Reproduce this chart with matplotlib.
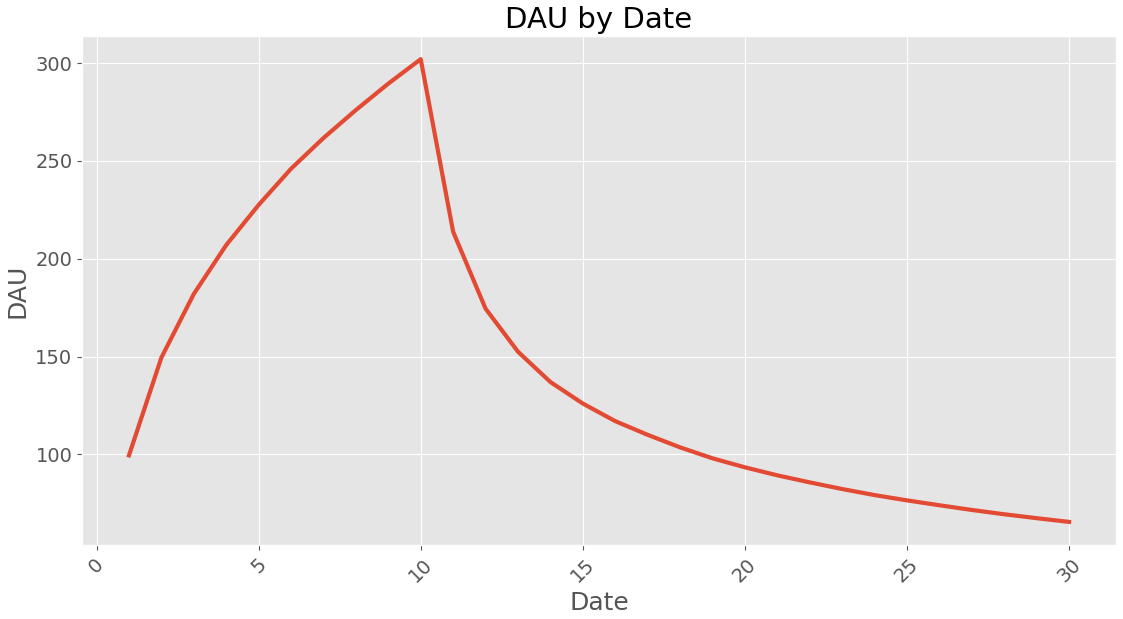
import matplotlib
matplotlib.use("Agg")
import matplotlib.pyplot as plt

plt.style.use("ggplot")

dates = list(range(1, 31))
dau = [99.5, 149.5, 182, 207, 227.5, 246, 261.7, 276, 289.5, 302,
       213.8, 174.5, 152.5, 137, 126, 117, 110, 103.6, 98, 93.4,
       89.3, 85.7, 82.3, 79.2, 76.5, 74, 71.6, 69.4, 67.4, 65.5]

fig = plt.figure(figsize=(11.23, 6.19), dpi=100)
ax = fig.add_axes([0.073, 0.1195, 0.9208, 0.8223])
ax.plot(dates, dau, color="#E24A33", linewidth=3)
ax.set_title("DAU by Date", fontsize=21)
ax.set_xlabel("Date", fontsize=18)
ax.set_ylabel("DAU", fontsize=18)
ax.tick_params(axis="both", labelsize=14)
plt.setp(ax.get_xticklabels(), rotation=45)
fig.savefig("out.png", dpi=100)
